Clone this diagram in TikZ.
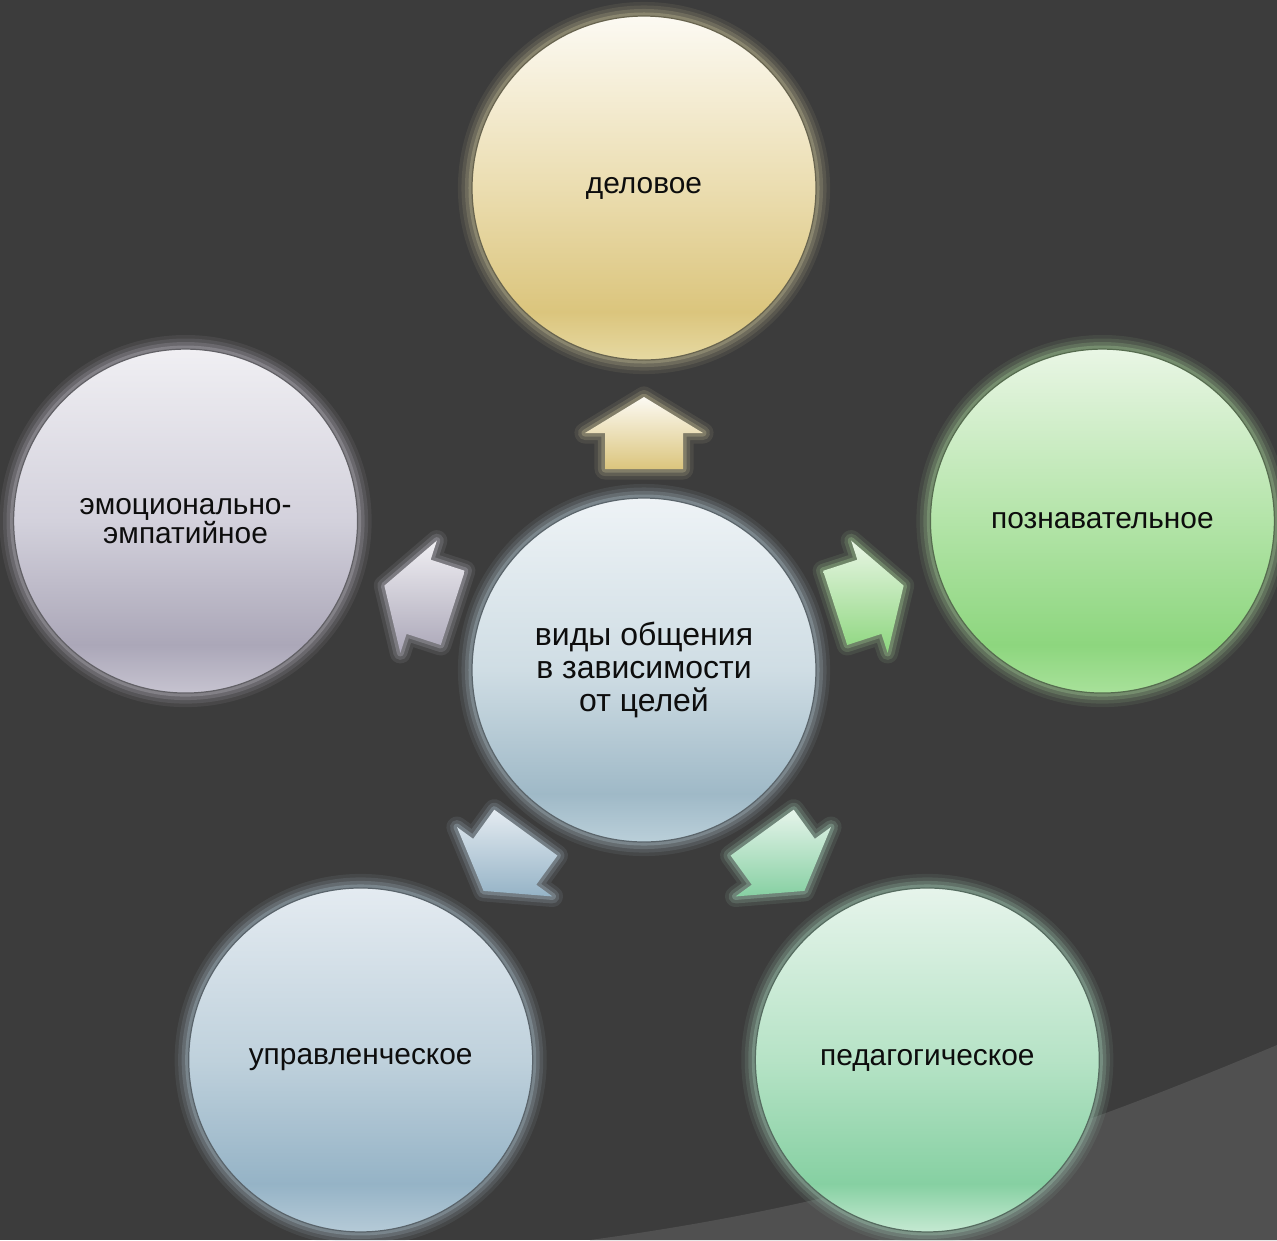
\documentclass[tikz,border=0pt]{standalone}
\usepackage{fontspec}
\setmainfont{Liberation Sans}
\usetikzlibrary{calc, positioning}

\definecolor{bgdark}{HTML}{3C3C3C}
\definecolor{bglight}{HTML}{505050}
% ball colours: top, middle, low band, bottom rim
\definecolor{goldA}{HTML}{FCFAF3}\definecolor{goldB}{HTML}{EBDDB0}\definecolor{goldC}{HTML}{DBC57D}\definecolor{goldD}{HTML}{E6D9A2}
\definecolor{hubA}{HTML}{EEF3F6}\definecolor{hubB}{HTML}{CFDDE4}\definecolor{hubC}{HTML}{9FB9C7}\definecolor{hubD}{HTML}{BACFD9}
\definecolor{grnA}{HTML}{E9F6E5}\definecolor{grnB}{HTML}{B3E4A8}\definecolor{grnC}{HTML}{8DD67E}\definecolor{grnD}{HTML}{A8E19A}
\definecolor{mntA}{HTML}{E6F4EB}\definecolor{mntB}{HTML}{B6E3C6}\definecolor{mntC}{HTML}{86D0A2}\definecolor{mntD}{HTML}{C5E9D2}
\definecolor{stlA}{HTML}{E4EBF1}\definecolor{stlB}{HTML}{BFD1DC}\definecolor{stlC}{HTML}{95B3C6}\definecolor{stlD}{HTML}{B5CAD7}
\definecolor{lilA}{HTML}{F0EFF3}\definecolor{lilB}{HTML}{D3D1DC}\definecolor{lilC}{HTML}{ABA7B8}\definecolor{lilD}{HTML}{C6C3D0}
% glow colours
\definecolor{goldG}{HTML}{BDB690}
\definecolor{hubG}{HTML}{A6B8C2}
\definecolor{grnG}{HTML}{9CC490}
\definecolor{mntG}{HTML}{9CC4AE}
\definecolor{stlG}{HTML}{A3B6C2}
\definecolor{lilG}{HTML}{B2B0BA}

\pgfdeclareverticalshading{goldball}{100bp}{color(0bp)=(goldD); color(25bp)=(goldD); color(32bp)=(goldC); color(50bp)=(goldB); color(75bp)=(goldA); color(100bp)=(goldA)}
\pgfdeclareverticalshading{hubball}{100bp}{color(0bp)=(hubD); color(25bp)=(hubD); color(32bp)=(hubC); color(50bp)=(hubB); color(75bp)=(hubA); color(100bp)=(hubA)}
\pgfdeclareverticalshading{grnball}{100bp}{color(0bp)=(grnD); color(25bp)=(grnD); color(32bp)=(grnC); color(50bp)=(grnB); color(75bp)=(grnA); color(100bp)=(grnA)}
\pgfdeclareverticalshading{mntball}{100bp}{color(0bp)=(mntD); color(25bp)=(mntD); color(32bp)=(mntC); color(50bp)=(mntB); color(75bp)=(mntA); color(100bp)=(mntA)}
\pgfdeclareverticalshading{stlball}{100bp}{color(0bp)=(stlD); color(25bp)=(stlD); color(32bp)=(stlC); color(50bp)=(stlB); color(75bp)=(stlA); color(100bp)=(stlA)}
\pgfdeclareverticalshading{lilball}{100bp}{color(0bp)=(lilD); color(25bp)=(lilD); color(32bp)=(lilC); color(50bp)=(lilB); color(75bp)=(lilA); color(100bp)=(lilA)}

% block arrow from the hub towards a goal: #1 goal, #2 top, #3 bottom, #4 glow
\newcommand{\goalarrow}[4]{%
  \shade[top color=#2, bottom color=#3, arrowglow=#4]
    ($(hub)!2.01cm!(#1)!0.39cm!-90:(#1)$) -- ($(hub)!2.37cm!(#1)!0.39cm!-90:(#1)$)
    -- ($(hub)!2.37cm!(#1)!0.59cm!-90:(#1)$) -- ($(hub)!2.73cm!(#1)$)
    -- ($(hub)!2.37cm!(#1)!0.59cm!90:(#1)$) -- ($(hub)!2.37cm!(#1)!0.39cm!90:(#1)$)
    -- ($(hub)!2.01cm!(#1)!0.39cm!90:(#1)$) -- cycle;}

\begin{document}
\begin{tikzpicture}[
  every node/.style={text=black!95},
  goal/.style 2 args={
    circle, minimum size=3.44cm, inner sep=0pt, align=center,
    shade, shading=#1, draw=#2!55!black, line width=0.35pt,
    preaction={draw=#2, line width=8pt, draw opacity=0.10},
    preaction={draw=#2, line width=6pt, draw opacity=0.14},
    preaction={draw=#2, line width=4pt, draw opacity=0.22},
    preaction={draw=#2, line width=2pt, draw opacity=0.35},
    font=\fontsize{8.5}{8.3}\selectfont
  },
  hubtext/.style={font=\fontsize{9.1}{9.4}\selectfont},
  arrowglow/.style={
    preaction={draw=#1, line width=6pt, draw opacity=0.12, line join=round},
    preaction={draw=#1, line width=4pt, draw opacity=0.2, line join=round},
    preaction={draw=#1, line width=2pt, draw opacity=0.35, line join=round}
  }
]

% Canvas
\useasboundingbox (-6.44,-5.70) rectangle (6.33,6.70);
\fill[bgdark] (-6.44,-5.70) rectangle (6.33,6.70);
\fill[bglight] (-0.54,-5.70) .. controls (2.4,-5.3) and (4.3,-4.6) .. (6.33,-3.75)
  -- (6.33,-5.70) -- cycle;

% Hub
\node[goal={hubball}{hubG}, hubtext] (hub) at (0,0)
{виды общения\\в зависимости\\от целей};

% Goals
\node[goal={goldball}{goldG}] (biz) at (90:4.82) {деловое};
\node[goal={grnball}{grnG}] (cogn) at (18:4.82) {познавательное};
\node[goal={mntball}{mntG}] (ped) at (-54:4.82) {педагогическое};
\node[goal={stlball}{stlG}] (mgmt) at (-126:4.82) {управленческое};
\node[goal={lilball}{lilG}] (emo) at (162:4.82) {эмоционально-\\эмпатийное};

% Block arrows
\goalarrow{biz}{goldA}{goldC}{goldG}
\goalarrow{cogn}{grnA}{grnC}{grnG}
\goalarrow{ped}{mntA}{mntC}{mntG}
\goalarrow{mgmt}{stlA}{stlC}{stlG}
\goalarrow{emo}{lilA}{lilC}{lilG}

\end{tikzpicture}
\end{document}
